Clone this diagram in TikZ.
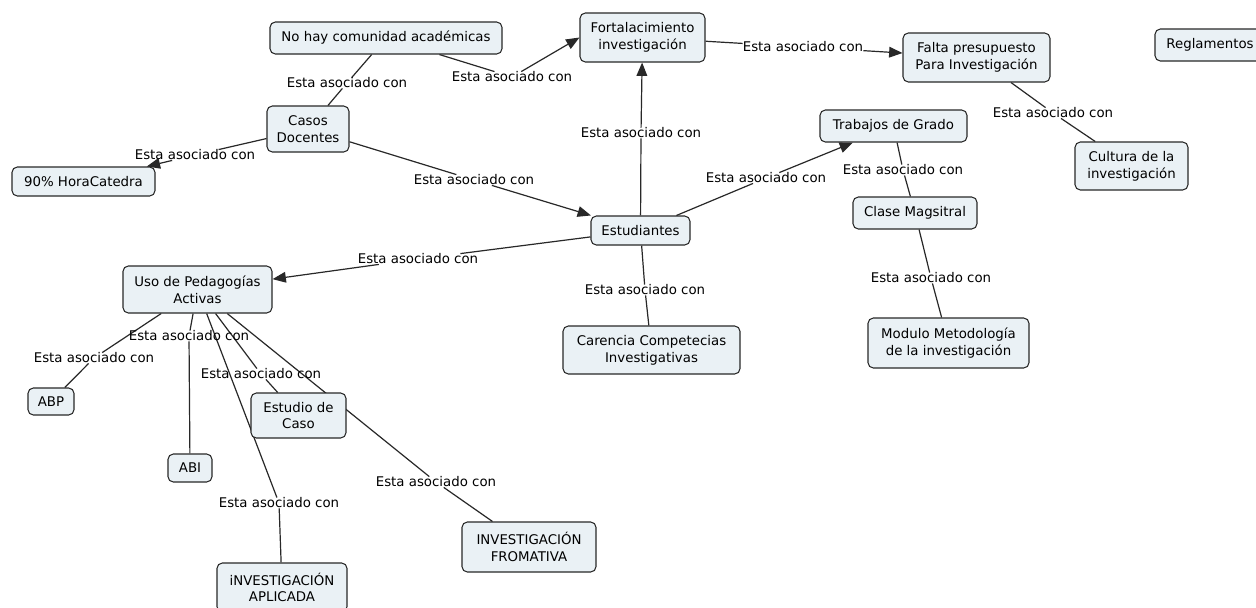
\documentclass[tikz,border=0pt]{standalone}
\usepackage{fontspec}
\setmainfont{DejaVu Sans}
\usetikzlibrary{arrows.meta}
\definecolor{cfill}{RGB}{234,241,245}
\definecolor{cline}{RGB}{40,40,40}
\pgfdeclarelayer{bgzero}
\pgfdeclarelayer{edges}
\pgfsetlayers{bgzero,edges,main}
\begin{document}
\begin{tikzpicture}[x=0.75pt,y=-0.75pt,
  concept/.style={draw=cline, fill=cfill, rounded corners=4pt, line width=0.8pt,
    align=center, inner sep=1pt, font=\fontsize{10}{12.5}\selectfont},
  sz/.style 2 args={minimum width={#1*0.75pt}, minimum height={#2*0.75pt}},
  lab/.style={inner sep=0pt, font=\fontsize{10}{12}\selectfont},
  link/.style={draw=cline, line width=0.9pt},
  arr/.style={link, -{Triangle[length=10pt,width=8pt]}}]
\useasboundingbox (0,0) rectangle (1256,607);
\begin{pgfonlayer}{bgzero}
\fill[white] (0,0) rectangle (1256,607);
\end{pgfonlayer}

% concepts
\node[concept, sz={232}{32}] (nohay) at (386,38) {No hay comunidad académicas};
\node[concept, sz={125}{49}] (fortal) at (642.5,37.5) {Fortalacimiento\\investigación};
\node[concept, sz={147}{49}] (falta) at (976.5,57.5) {Falta presupuesto\\Para Investigación};
\node[concept, sz={110}{32}] (regl) at (1210,45) {Reglamentos};
\node[concept, sz={82}{46}] (casos) at (308,129) {Casos\\Docentes};
\node[concept, sz={143}{29}] (hora) at (83.5,181.5) {90\% HoraCatedra};
\node[concept, sz={147}{32}] (trabajos) at (893.5,126) {Trabajos de Grado};
\node[concept, sz={113}{48}] (cultura) at (1131.5,166) {Cultura de la\\investigación};
\node[concept, sz={99}{29}] (estud) at (640.5,230.5) {Estudiantes};
\node[concept, sz={124}{32}] (clase) at (915,213) {Clase Magsitral};
\node[concept, sz={149}{47}] (uso) at (197.5,289.5) {Uso de Pedagogías\\Activas};
\node[concept, sz={177}{48}] (carencia) at (651.5,350) {Carencia Competecias\\Investigativas};
\node[concept, sz={161}{50}] (modulo) at (948.5,343) {Modulo Metodología\\de la investigación};
\node[concept, sz={46}{27}] (abp) at (51,401.5) {ABP};
\node[concept, sz={95}{45}] (estudio) at (298.5,415.5) {Estudio de\\Caso};
\node[concept, sz={44}{28}] (abi) at (190,468) {ABI};
\node[concept, sz={134}{50}] (fromativa) at (529,547) {INVESTIGACIÓN\\FROMATIVA};
\node[concept, sz={130}{49}] (aplicada) at (282,587.5) {iNVESTIGACIÓN\\APLICADA};

% linking phrases
\node[lab] (l1) at (347,83) {Esta asociado con};
\node[lab] (l2) at (512,77) {Esta asociado con};
\node[lab] (l3) at (195,155) {Esta asociado con};
\node[lab] (l4) at (474,180) {Esta asociado con};
\node[lab] (l5) at (641,133) {Esta asociado con};
\node[lab] (l6) at (803,47) {Esta asociado con};
\node[lab] (l7) at (766,178) {Esta asociado con};
\node[lab] (l8) at (903,170) {Esta asociado con};
\node[lab] (l9) at (1053,113) {Esta asociado con};
\node[lab] (l10) at (418,259) {Esta asociado con};
\node[lab] (l11) at (645,290) {Esta asociado con};
\node[lab] (l12) at (931,278) {Esta asociado con};
\node[lab] (l13) at (94,358) {Esta asociado con};
\node[lab] (l14) at (189,336) {Esta asociado con};
\node[lab] (l15) at (261,374) {Esta asociado con};
\node[lab] (l16) at (279,503) {Esta asociado con};
\node[lab] (l17) at (436,482) {Esta asociado con};

\begin{pgfonlayer}{edges}
\draw[link] (nohay) -- (l1); \draw[link] (l1) -- (casos);
\draw[link] (nohay) -- (l2); \draw[arr] (l2) -- (fortal.west);
\draw[link] (casos) -- (l3); \draw[arr] (l3) -- (hora);
\draw[link] (casos) -- (l4); \draw[arr] (l4) -- (estud);
\draw[link] (estud) -- (l5); \draw[arr] (l5) -- (fortal);
\draw[link] (fortal) -- (l6); \draw[arr] (l6) -- (falta);
\draw[link] (estud) -- (l7); \draw[arr] (l7) -- (trabajos);
\draw[link] (trabajos) -- (l8); \draw[link] (l8) -- (clase);
\draw[link] (falta) -- (l9); \draw[link] (l9) -- (cultura);
\draw[link] (estud) -- (l10); \draw[arr] (l10) -- (uso);
\draw[link] (estud) -- (l11); \draw[link] (l11) -- (carencia);
\draw[link] (clase) -- (l12); \draw[link] (l12) -- (modulo);
\draw[link] (uso) -- (l13); \draw[link] (l13) -- (abp);
\draw[link] (uso) -- (l14); \draw[link] (l14) -- (abi);
\draw[link] (uso) -- (l15); \draw[link] (l15) -- (estudio);
\draw[link] (uso) -- (l16); \draw[link] (l16) -- (aplicada);
\draw[link] (uso) -- (l17); \draw[link] (l17) -- (fromativa);
\end{pgfonlayer}
\end{tikzpicture}
\end{document}
